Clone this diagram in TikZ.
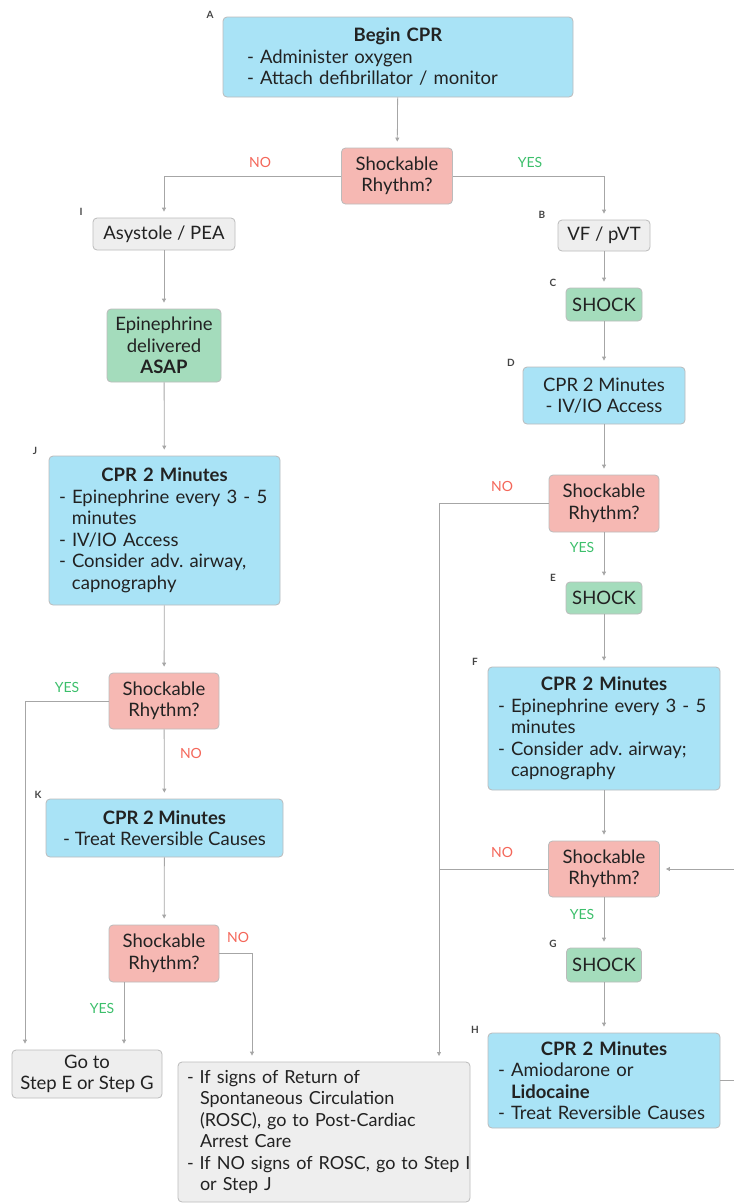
\documentclass[tikz,border=0pt]{standalone}
\usepackage{fontspec}
\setmainfont{Lato}
\usetikzlibrary{arrows.meta}

\definecolor{boxblue}{HTML}{A9E3F6}
\definecolor{boxpink}{HTML}{F6B8B3}
\definecolor{boxgreen}{HTML}{A4DCBC}
\definecolor{boxgray}{HTML}{EEEEEE}
\definecolor{edgegray}{HTML}{BBBBBB}
\definecolor{linegray}{HTML}{A6A6A6}
\definecolor{nored}{HTML}{F4675A}
\definecolor{yesgreen}{HTML}{3CBF6B}
\definecolor{inkdark}{HTML}{222222}
\definecolor{tagdark}{HTML}{444444}

\frenchspacing
% continuation indent for wrapped list items
\newcommand{\cont}{\hspace*{13pt}}

\tikzset{
  base/.style={draw=edgegray, line width=0.8pt, rounded corners=4pt,
    inner sep=0pt, text=inkdark, font=\fontsize{18.5}{21.5}\selectfont},
  bluebox/.style={base, fill=boxblue},
  pinkbox/.style={base, fill=boxpink, align=center},
  greenbox/.style={base, fill=boxgreen, align=center},
  graybox/.style={base, fill=boxgray},
  tag/.style={font=\fontsize{10}{10}\selectfont\bfseries, text=tagdark, inner sep=0pt},
  nolab/.style={font=\fontsize{14}{14}\selectfont, text=nored, inner sep=0pt},
  yeslab/.style={font=\fontsize{14}{14}\selectfont, text=yesgreen, inner sep=0pt},
  link/.style={draw=linegray, line width=0.8pt},
  arr/.style={link, -{Triangle[length=4pt,width=4pt]}, shorten >=6pt},
}

\begin{document}
\begin{tikzpicture}[x=1pt, y=-1pt]
\useasboundingbox (0,0) rectangle (734,1203);

% ---- boxes ----
\node[bluebox, minimum width=350pt, minimum height=80pt, text width=302pt] (A) at (398,57)
  {{\centering\bfseries Begin CPR\par}- Administer oxygen\\- Attach defibrillator / monitor};
\node[pinkbox, minimum width=111pt, minimum height=56pt] (R1) at (397,176) {Shockable\\Rhythm?};

\node[graybox, minimum width=142pt, minimum height=32pt] (I) at (164,234) {Asystole / PEA};
\node[greenbox, minimum width=114pt, minimum height=73pt] (Epi) at (164,345.5)
  {Epinephrine\\delivered\\\textbf{ASAP}};
\node[bluebox, minimum width=231pt, minimum height=149pt, text width=211pt] (J) at (164.5,530.5)
  {{\centering\bfseries CPR 2 Minutes\par}- Epinephrine every 3 - 5\\\cont minutes\\- IV/IO Access\\- Consider adv. airway,\\\cont capnography};
\node[pinkbox, minimum width=110pt, minimum height=56pt] (R3) at (164,701) {Shockable\\Rhythm?};
\node[bluebox, minimum width=237pt, minimum height=58pt, align=center] (K) at (164.5,828)
  {\textbf{CPR 2 Minutes}\\- Treat Reversible Causes};
\node[pinkbox, minimum width=110pt, minimum height=57pt] (R4) at (164,953.5) {Shockable\\Rhythm?};
\node[graybox, minimum width=150pt, minimum height=48pt, align=center] (Go) at (87,1074)
  {Go to\\Step E or Step G};
\node[graybox, minimum width=292pt, minimum height=140pt, text width=274pt,
      font=\fontsize{18}{21.5}\selectfont] (Fin) at (324,1132)
  {- If signs of Return of\\\cont Spontaneous Circulation\\\cont (ROSC), go to Post-Cardiac\\\cont Arrest Care\\\mbox{- If NO signs of ROSC, go to Step I}\\\cont or Step J};

\node[graybox, minimum width=92pt, minimum height=31pt] (B) at (604,235.5) {VF / pVT};
\node[greenbox, minimum width=76pt, minimum height=33pt] (C) at (604,304.5) {SHOCK};
\node[bluebox, minimum width=162pt, minimum height=57pt, align=center] (D) at (604,395.5)
  {CPR 2 Minutes\\- IV/IO Access};
\node[pinkbox, minimum width=110pt, minimum height=57pt] (R2) at (604,503.5) {Shockable\\Rhythm?};
\node[greenbox, minimum width=76pt, minimum height=32pt] (E) at (604,598) {SHOCK};
\node[bluebox, minimum width=232pt, minimum height=123pt, text width=212pt] (F) at (604,728.5)
  {{\centering\bfseries CPR 2 Minutes\par}- Epinephrine every 3 - 5\\\cont minutes\\- Consider adv. airway;\\\cont capnography};
\node[pinkbox, minimum width=111pt, minimum height=56pt] (R5) at (604,869) {Shockable\\Rhythm?};
\node[greenbox, minimum width=75pt, minimum height=34pt] (G) at (604,965) {SHOCK};
\node[bluebox, minimum width=232pt, minimum height=95pt, text width=212pt] (H) at (604,1080.5)
  {{\centering\bfseries CPR 2 Minutes\par}- Amiodarone or\\\cont\textbf{Lidocaine}\\- Treat Reversible Causes};

% ---- step letters ----
\node[tag] (tA) at (210,15) {A};
\node[tag] (tI) at (81,212) {I};
\node[tag] (tJ) at (35,451) {J};
\node[tag] (tK) at (38,795) {K};
\node[tag] (tB) at (542,215) {B};
\node[tag] (tC) at (553,283) {C};
\node[tag] (tD) at (511,363) {D};
\node[tag] (tE) at (553,578) {E};
\node[tag] (tF) at (475,662) {F};
\node[tag] (tG) at (553,944) {G};
\node[tag] (tH) at (475,1030) {H};

% ---- helper points for shared lines ----
\coordinate (bus) at (439,1062);
\coordinate (loop) at (760,0);

% ---- connectors ----
\draw[arr] (A) -- (R1);
\draw[arr] (R1.west) -| (I.north);
\draw[arr] (R1.east) -| (B.north);
\draw[arr] (I) -- (Epi);
\draw[arr] (Epi) -- (J);
\draw[arr] (J) -- (R3);
\draw[arr] (R3) -- (K);
\draw[arr] (K) -- (R4);
\draw[arr] (R3.west) -| ([xshift=-62pt]Go.north);
\draw[arr] ([xshift=-40pt]R4.south) -- ([xshift=-40pt]R4.south |- Go.north);
\draw[arr] (R4.east) -| ([xshift=-72pt]Fin.north);

\draw[arr] (B) -- (C);
\draw[arr] (C) -- (D);
\draw[arr] (D) -- (R2);
\draw[arr] (R2) -- (E);
\draw[arr] (E) -- (F);
\draw[arr] (F) -- (R5);
\draw[arr] (R5) -- (G);
\draw[arr] (G) -- (H);
\draw[arr] (R2.west) -| (bus);
\draw[link] (R5.west) -- (R5.west -| bus);
\draw[arr] (H.east) -- (H.east -| loop) |- (R5.east);

% ---- branch labels ----
\node[nolab] (n1) at (260,162) {NO};
\node[yeslab] (y1) at (530,162) {YES};
\node[nolab] (n2) at (502,486) {NO};
\node[yeslab] (y2) at (582,547) {YES};
\node[yeslab] (y3) at (67,687) {YES};
\node[nolab] (n3) at (191,753) {NO};
\node[nolab] (n4) at (238,937) {NO};
\node[yeslab] (y4) at (102,1008) {YES};
\node[nolab] (n5) at (502,852) {NO};
\node[yeslab] (y5) at (582,914) {YES};
\end{tikzpicture}
\end{document}
